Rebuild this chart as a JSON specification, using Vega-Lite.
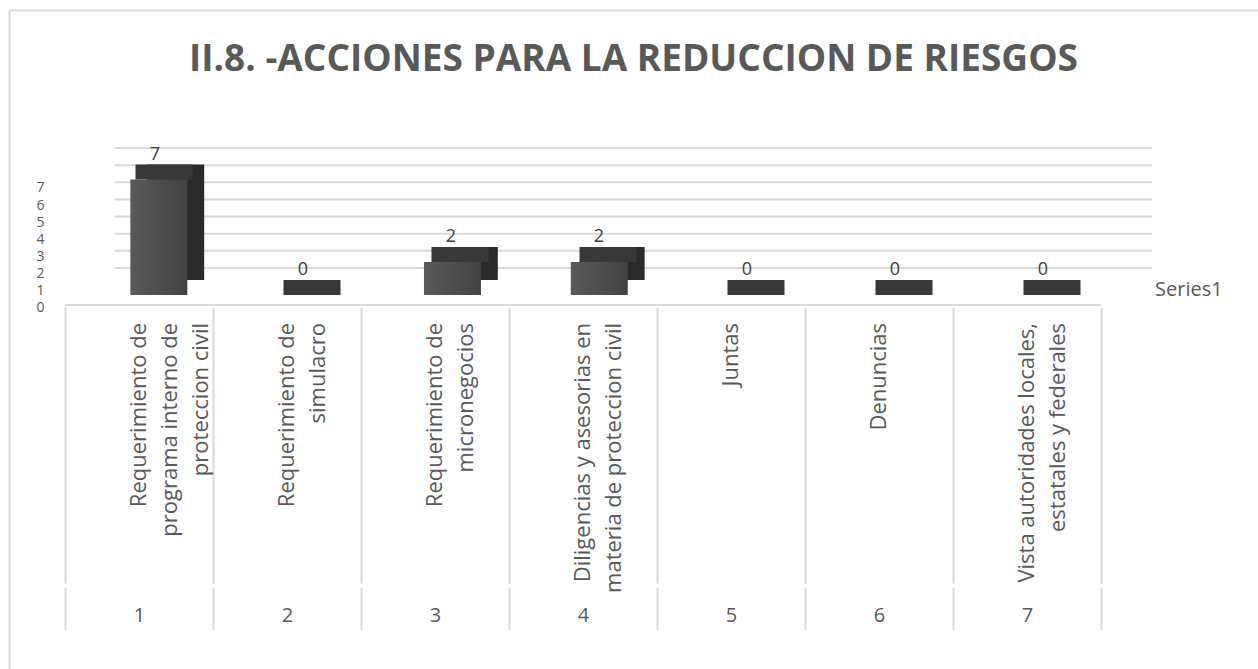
{
  "$schema": "https://vega.github.io/schema/vega-lite/v6.json",
  "width": 1249,
  "height": 659,
  "padding": {"left": 9, "top": 10, "right": 0, "bottom": 0},
  "autosize": {"type": "none"},
  "background": "#ffffff",
  "config": {"view": {"stroke": null}, "font": "Open Sans"},
  "title": {
    "text": "II.8. -ACCIONES PARA LA REDUCCION DE RIESGOS",
    "anchor": "middle",
    "frame": "group",
    "orient": "top",
    "offset": -98,
    "baseline": "alphabetic",
    "font": "Open Sans",
    "fontSize": 37,
    "fontWeight": "bold",
    "color": "#595959"
  },
  "datasets": {
    "cats": [
      {"i": 1, "label": "Requerimiento de\nprograma interno de\nproteccion civil", "value": 7},
      {"i": 2, "label": "Requerimiento de\nsimulacro", "value": 0},
      {"i": 3, "label": "Requerimiento de\nmicronegocios", "value": 2},
      {"i": 4, "label": "Diligencias y asesorias en\nmateria de proteccion civil", "value": 2},
      {"i": 5, "label": "Juntas", "value": 0},
      {"i": 6, "label": "Denuncias", "value": 0},
      {"i": 7, "label": "Vista autoridades locales,\nestatales y federales", "value": 0}
    ],
    "ticks": [{"v": 0}, {"v": 1}, {"v": 2}, {"v": 3}, {"v": 4}, {"v": 5}, {"v": 6}, {"v": 7}],
    "series": [{"name": "Series1"}]
  },
  "resolve": {"scale": {"x": "independent", "y": "independent"}, "axis": {"x": "independent", "y": "independent"}},
  "layer": [
    {
      "data": {"name": "ticks"},
      "mark": {"type": "rule", "color": "#d9d9d9", "strokeWidth": 2},
      "encoding": {
        "x": {"datum": 0.8378, "type": "quantitative", "scale": {"domain": [0.1216, 8.5608], "nice": false, "zero": false},
          "axis": {"orient": "top", "domain": true, "domainColor": "#d9d9d9", "domainWidth": 2, "ticks": false, "labels": false, "grid": false, "title": null}},
        "x2": {"datum": 7.8446},
        "y": {"field": "v", "type": "quantitative", "scale": {"domain": [-23.392, 15.05], "nice": false, "zero": false},
          "axis": {"orient": "left", "values": [0, 1, 2, 3, 4, 5, 6, 7], "domain": false, "ticks": false, "tickSize": 0, "grid": false, "labelOffset": 40, "offset": -35, "labelPadding": 0, "labelFontSize": 14, "labelColor": "#595959", "labelFont": "Open Sans", "labelOverlap": false, "labelFlush": false, "title": null}}
      }
    },
    {
      "data": {"name": "series"},
      "mark": {"type": "rule", "color": "#d9d9d9", "strokeWidth": 2},
      "encoding": {
        "x": {"datum": 0.5, "type": "quantitative", "scale": {"domain": [0.1216, 8.5608], "nice": false, "zero": false},
          "axis": {"orient": "bottom", "offset": -39, "values": [0.5, 1.5, 2.5, 3.5, 4.5, 5.5, 6.5, 7.5], "tickSize": -43, "tickColor": "#d9d9d9", "tickWidth": 2, "labels": false, "domain": false, "grid": false, "title": null}},
        "x2": {"datum": 7.5},
        "y": {"datum": -2.158, "type": "quantitative", "scale": {"domain": [-23.392, 15.05], "nice": false, "zero": false},
          "axis": {"orient": "left", "offset": 0, "domain": true, "domainColor": "#d9d9d9", "domainWidth": 2, "ticks": false, "labels": false, "grid": false, "title": null}}
      }
    },
    {
      "data": {"name": "series"},
      "mark": {"type": "text", "align": "left", "baseline": "middle", "fontSize": 20, "color": "#595959", "font": "Open Sans"},
      "encoding": {
        "x": {"datum": 7.865, "type": "quantitative", "scale": {"domain": [0.1216, 8.5608], "nice": false, "zero": false},
          "axis": {"orient": "bottom", "offset": -86, "values": [0.5, 1.5, 2.5, 3.5, 4.5, 5.5, 6.5, 7.5], "tickSize": -276, "tickColor": "#d9d9d9", "tickWidth": 2, "labels": false, "domain": false, "grid": false, "title": null}},
        "y": {"datum": -1.283, "type": "quantitative", "scale": {"domain": [-23.392, 15.05], "nice": false, "zero": false}, "axis": null},
        "text": {"field": "name"}
      }
    },
    {
      "data": {"name": "cats"},
      "mark": {"type": "text", "angle": 270, "align": "right", "baseline": "middle", "lineBreak": "\n", "lineHeight": 31, "fontSize": 22, "color": "#595959", "font": "Open Sans"},
      "encoding": {
        "x": {"field": "i", "type": "quantitative", "scale": {"domain": [0.1216, 8.5608], "nice": false, "zero": false},
          "axis": {"orient": "bottom", "offset": -69, "values": [1, 2, 3, 4, 5, 6, 7], "format": "d", "ticks": false, "tickSize": 0, "domain": false, "grid": false, "labelPadding": 15, "labelBaseline": "middle", "labelFontSize": 20, "labelColor": "#595959", "labelFont": "Open Sans", "labelFlush": false, "labelOverlap": false, "title": null}},
        "y": {"datum": -3.208, "type": "quantitative", "scale": {"domain": [-23.392, 15.05], "nice": false, "zero": false}, "axis": null},
        "text": {"field": "label"}
      }
    },
    {
      "data": {"name": "cats"},
      "mark": {"type": "bar", "width": 57, "color": "#2a2a2a"},
      "encoding": {
        "x": {"field": "i", "type": "quantitative", "scale": {"domain": [-0.1014, 8.3378], "nice": false, "zero": false}, "axis": null},
        "y": {"field": "value", "type": "quantitative", "scale": {"domain": [-23.576, 16.364], "nice": false, "zero": false}, "axis": null}
      }
    },
    {
      "data": {"name": "cats"},
      "mark": {"type": "tick", "orient": "horizontal", "size": 57, "thickness": 15, "color": "#383838", "opacity": 1},
      "encoding": {
        "x": {"field": "i", "type": "quantitative", "scale": {"domain": [-0.0473, 8.3919], "nice": false, "zero": false}, "axis": null},
        "y": {"field": "value", "type": "quantitative", "scale": {"domain": [-23.121, 16.818], "nice": false, "zero": false}, "axis": null}
      }
    },
    {
      "data": {"name": "cats"},
      "mark": {"type": "bar", "width": 57, "color": {"gradient": "linear", "x1": 0, "y1": 0, "x2": 1, "y2": 0, "stops": [{"offset": 0, "color": "#5a5a5a"}, {"offset": 1, "color": "#424242"}]}},
      "encoding": {
        "x": {"field": "i", "type": "quantitative", "scale": {"domain": [0.0135, 8.4527], "nice": false, "zero": false}, "axis": null},
        "y": {"field": "value", "type": "quantitative", "scale": {"domain": [-22.667, 17.273], "nice": false, "zero": false}, "axis": null}
      }
    },
    {
      "data": {"name": "cats"},
      "mark": {"type": "text", "baseline": "alphabetic", "align": "center", "dy": -5, "fontSize": 18, "color": "#404040", "font": "Open Sans"},
      "encoding": {
        "x": {"field": "i", "type": "quantitative", "scale": {"domain": [0.0135, 8.4527], "nice": false, "zero": false}, "axis": null},
        "y": {"field": "value", "type": "quantitative", "scale": {"domain": [-23.576, 16.364], "nice": false, "zero": false}, "axis": null},
        "text": {"field": "value", "type": "quantitative"}
      }
    }
  ]
}
